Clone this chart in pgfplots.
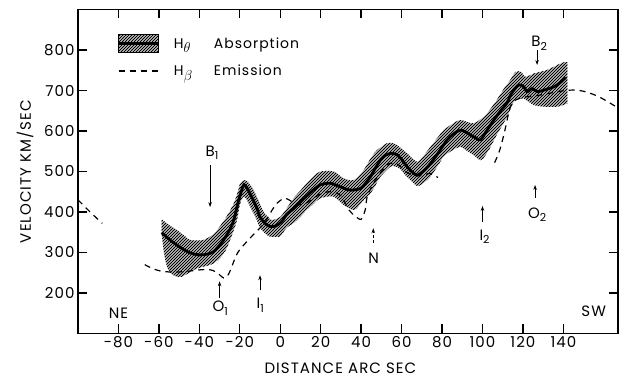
\documentclass[border=0pt]{standalone}
\usepackage{fontspec}
\setmainfont{Poppins}[LetterSpace=7]
\usepackage{pgfplots}
\pgfplotsset{compat=1.18}
\usepgfplotslibrary{fillbetween}
\usetikzlibrary{patterns,arrows.meta}
\pgfdeclarepatternformonly{densehatch}{\pgfqpoint{-1pt}{-1pt}}{\pgfqpoint{4pt}{4pt}}{\pgfqpoint{3pt}{3pt}}{%
  \pgfsetlinewidth{0.75pt}
  \pgfpathmoveto{\pgfqpoint{0pt}{0pt}}
  \pgfpathlineto{\pgfqpoint{3.1pt}{3.1pt}}
  \pgfusepath{stroke}}
\newcommand\sub[1]{\raisebox{-0.45ex}{\fontsize{11}{11}\selectfont #1}}
\begin{document}
\begin{tikzpicture}
\begin{axis}[
  scale only axis, width=540pt, height=324pt,
  xmin=-100, xmax=167, ymin=100, ymax=900,
  xtick={-80,-60,...,140}, ytick={200,300,...,800},
  xtick pos=both, ytick pos=both,
  xticklabel pos=lower, yticklabel pos=left,
  tick align=inside, major tick length=9pt,
  every tick/.style={black, line width=1.3pt},
  axis line style={line width=1.3pt},
  /pgf/number format/assume math mode=true,
  ticklabel style={font=\fontsize{15}{15}\selectfont},
  xticklabel style={yshift=1pt},
  xlabel={DISTANCE ARC SEC}, ylabel={VELOCITY KM/SEC},
  xlabel style={at={(axis description cs:0.486,-0.106)}, anchor=center, font=\fontsize{15}{15}\selectfont},
  ylabel style={at={(axis description cs:-0.098,0.5)}, anchor=center, font=\fontsize{15}{15}\selectfont},
  legend style={at={(axis description cs:0.0722,0.924)}, anchor=north west, draw=none, fill=none,
    font=\fontsize{14}{14}\selectfont, row sep=10pt, inner sep=0pt},
  legend cell align=left,
]
\addlegendimage{legend image code/.code={
  \fill[gray!30] (0pt,-9pt) rectangle (40pt,9pt);
  \fill[pattern=densehatch] (0pt,-9pt) rectangle (40pt,9pt);
  \draw[line width=0.6pt] (0pt,-9pt) -- (40pt,-9pt) (0pt,9pt) -- (40pt,9pt);
  \draw[line width=2.8pt] (0pt,0pt) -- (40pt,0pt);}}
\addlegendentry{\hspace{12pt}\makebox[40pt][l]{H\raisebox{-0.6ex}{\fontsize{15}{15}\selectfont$\theta$}}Absorption}
\addlegendimage{legend image code/.code={
  \draw[line width=1.2pt, dash pattern=on 6pt off 5pt] (0pt,0pt) -- (40pt,0pt);}}
\addlegendentry{\hspace{12pt}\makebox[40pt][l]{H\raisebox{-0.6ex}{\fontsize{15}{15}\selectfont$\beta$}}Emission}

% upper envelope of absorption band
\addplot[draw=none, smooth, name path=U, forget plot] coordinates {
(-58.6,382) (-55,368) (-51,355) (-47,340) (-44.6,331) (-38,331) (-34,342) (-31.3,355)
(-27,385) (-23,421) (-20.5,458) (-19.8,471) (-17.3,479) (-15,468) (-13.2,454) (-10.5,425)
(-8.3,401) (-6,387) (-4.1,380) (0,388) (3.3,410) (6.6,434) (10,453) (13.2,471) (16.5,488)
(19.8,500) (26.4,500) (31.4,483) (36.3,479) (41.3,504) (45,535) (47.9,553) (52.8,570)
(55,571) (57.8,565) (62.7,545) (67.7,524) (71,540) (74.3,561) (78,585) (80.9,602) (85,617)
(89.1,627) (95.5,619) (100.5,635) (104,655) (107.1,677) (110,700) (113.7,726) (116.3,746)
(119,746) (121.3,734) (125.4,742) (132,751) (137,763) (140.3,770) (142,770)};
% lower envelope
\addplot[draw=none, smooth, name path=L, forget plot] coordinates {
(-58.6,345) (-57.5,300) (-56,265) (-54,248) (-51,240) (-48.7,240) (-45,250) (-42.9,257)
(-38,265) (-34.7,269) (-32,276) (-29.7,286) (-27,305) (-24.8,331) (-23,355) (-21.4,380)
(-19.8,421) (-18.2,438) (-16.5,430) (-14.9,413) (-12,385) (-9.9,360) (-7,345) (-5,339)
(-1.6,339) (0,340) (3.3,362) (6.6,372) (10,388) (13.2,405) (16.5,420) (19.8,434) (26.4,438)
(31.4,417) (36.3,405) (38.5,412) (41.3,430) (44.6,446) (47,465) (49.5,487) (54.5,512)
(57,512) (59.4,506) (62,490) (64.4,479) (67.7,464) (71,472) (74.3,487) (78,515) (80.9,537)
(85,552) (89.1,561) (92,552) (95.5,541) (99,528) (101.5,540) (104,561) (107,590) (110.4,619)
(112.2,635) (115.5,672) (118,678) (120.4,680) (125.4,664) (130.4,660) (137,660) (142,668)};
\addplot[gray!30, forget plot] fill between[of=U and L];
\addplot[pattern=densehatch, forget plot] fill between[of=U and L];

% central absorption line
\addplot[line width=2.8pt, smooth, forget plot] coordinates {
(-58.6,349) (-55,333) (-51,318) (-47,305) (-44,298) (-40,294) (-36,296) (-33,302) (-30,318)
(-28,331) (-25,356) (-23,380) (-20.5,430) (-19,455) (-18,467) (-16.5,460) (-15,446) (-12,415)
(-10,388) (-7.5,372) (-5,364) (-2,366) (1,378) (3.3,395) (6.6,408) (10,425) (13.2,440)
(16.5,455) (19.8,467) (24.8,471) (29.7,462) (34.7,454) (39.6,458) (42,470) (44.6,487) (47,508)
(49.5,528) (52,540) (55,545) (57.8,541) (60,530) (62.7,512) (65,500) (67.7,491) (71,502)
(74.3,520) (78,545) (82.5,578) (86,594) (89,602) (91.5,598) (94,590) (97,582) (99,578)
(102,600) (105.6,627) (109,650) (112.2,670) (114,690) (115.5,701) (118,714) (120.4,709)
(122.1,697) (124.6,705) (127.1,697) (130.4,701) (135.3,709) (138,718) (141.1,732)};

% H-beta emission (dashed)
\addplot[line width=1.2pt, dash pattern=on 6pt off 5pt, smooth, forget plot] coordinates {
(-100,430) (-94,400) (-88,372)};
\addplot[line width=1.2pt, dash pattern=on 6pt off 5pt, smooth, forget plot] coordinates {
(-67,270) (-63,260) (-59,254) (-55,252) (-50,252) (-45,254) (-40,257) (-36,258) (-33,255)
(-30,245) (-28,237) (-26,243) (-24.5,258) (-21,300) (-15,335) (-8,372) (-4,405) (-1.5,422)
(2,434) (5,428) (8,418) (12,420) (16,432) (20,445) (25,450) (30,440) (34,405) (37,390)
(40,382) (42,405) (43,438) (46,470) (50,500) (54,520) (58,518) (62,500) (66,490) (70,490)
(74,495) (78,485)};
\addplot[line width=1.2pt, dash pattern=on 6pt off 5pt, smooth, forget plot] coordinates {
(106,522) (108,545) (109.5,570) (111,600) (112.5,635) (113.5,655) (115,672) (118,680)
(121,684) (125,686) (130,690) (135,695) (141,700) (146,701) (150,698) (155,690) (160,678)
(166,660)};

% annotations
\draw[-{Stealth[length=5pt,width=3.5pt]}, line width=0.8pt] (axis cs:-34.7,516) -- (axis cs:-34.7,412);
\draw[-{Stealth[length=5pt,width=3.5pt]}, line width=0.8pt] (axis cs:127,800) -- (axis cs:127,763);
\draw[-{Stealth[length=5pt,width=3.5pt]}, line width=0.8pt] (axis cs:-30,188) -- (axis cs:-30,229);
\draw[-{Stealth[length=5pt,width=3.5pt]}, line width=0.8pt] (axis cs:-10,207) -- (axis cs:-10,244);
\draw[-{Stealth[length=5pt,width=3.5pt]}, line width=0.8pt, dash pattern=on 3pt off 2pt] (axis cs:46,323) -- (axis cs:46,360);
\draw[-{Stealth[length=5pt,width=3.5pt]}, line width=0.8pt] (axis cs:100,376) -- (axis cs:100,415);
\draw[-{Stealth[length=5pt,width=3.5pt]}, line width=0.8pt] (axis cs:126,434) -- (axis cs:126,467);
\begin{scope}[every node/.style={font=\fontsize{15}{15}\selectfont}]
\node at (axis cs:-33.7,546) {B\sub{1}};
\node at (axis cs:128,816) {B\sub{2}};
\node at (axis cs:-29.7,162) {O\sub{1}};
\node at (axis cs:-9.9,170) {I\sub{1}};
\node at (axis cs:46.2,286) {N};
\node at (axis cs:101,339) {I\sub{2}};
\node at (axis cs:127,393) {O\sub{2}};
\node at (axis cs:-80,150) {NE};
\node at (axis cs:155,156) {SW};
\end{scope}
\end{axis}
\pgfresetboundingbox
\path[use as bounding box] ([shift={(-78pt,-43.5pt)}]current axis.south west) rectangle ([shift={(4pt,9.5pt)}]current axis.north east);
\end{tikzpicture}
\end{document}
